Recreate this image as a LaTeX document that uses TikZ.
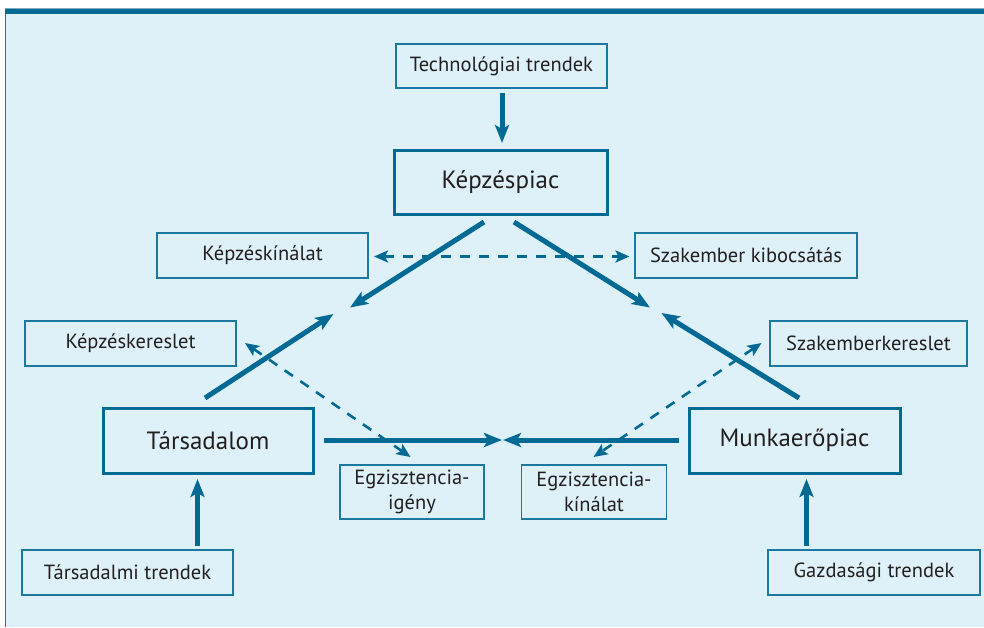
\documentclass[tikz,border=0pt]{standalone}
\usepackage{fontspec}
\setmainfont{PT Sans}
\usetikzlibrary{arrows.meta}
\definecolor{deepblue}{HTML}{006A95}
\definecolor{boxline}{HTML}{1B78A0}
\definecolor{panel}{HTML}{DFF1F8}
\definecolor{ink}{HTML}{231F20}
\begin{document}
\begin{tikzpicture}[x=1pt,y=-1pt,
  box/.style={draw=boxline, line width=1.5pt, inner sep=0pt, text=ink,
    font=\fontsize{20.5}{25}\selectfont, align=center},
  bigbox/.style={box, draw=deepblue, line width=3pt, font=\fontsize{25}{29}\selectfont},
  flow/.style={draw=deepblue, line width=5pt,
    -{Stealth[length=18pt,width=14pt,inset=4pt]}},
  link/.style={draw=deepblue, line width=2.6pt, dash pattern=on 10pt off 9pt,
    {Stealth[length=14pt,width=12pt,inset=3pt]}-{Stealth[length=14pt,width=12pt,inset=3pt]}}]
\useasboundingbox (0,0) rectangle (984,627);

% background panel with frame
\fill[panel] (5,8.5) rectangle (984,627);
\draw[boxline, line width=1pt] (5.5,627) -- (5.5,9);
\fill[deepblue] (5,9) rectangle (984,13.5);
\draw[boxline!60, line width=0.8pt] (5,8.6) -- (984,8.6);

% boxes
\node[box, minimum width=211pt, minimum height=44pt] (tech) at (501.5,66) {Technológiai trendek};
\node[bigbox, minimum width=213pt, minimum height=64pt] (kpiac) at (500.5,182) {Képzéspiac};
\node[box, minimum width=211pt, minimum height=45pt] (kkin) at (262.5,255.5) {Képzéskínálat};
\node[box, minimum width=222pt, minimum height=45pt] (szkib) at (746,255.5) {Szakember kibocsátás};
\node[box, minimum width=211pt, minimum height=45pt] (kker) at (130.5,343.5) {Képzéskereslet};
\node[box, minimum width=197pt, minimum height=45pt] (szker) at (868.5,343.5) {Szakemberkereslet};
\node[bigbox, minimum width=210pt, minimum height=65pt] (tars) at (208,440.5) {Társadalom};
\node[bigbox, minimum width=211pt, minimum height=65pt] (munka) at (794.5,440.5) {Munkaerőpiac};
\node[box, minimum width=144pt, minimum height=54pt] (egzi) at (412,492) {Egzisztencia-\\igény};
\node[box, minimum width=145pt, minimum height=54pt] (egzk) at (594,492) {Egzisztencia-\\kínálat};
\node[box, minimum width=211pt, minimum height=45pt] (tarst) at (127.5,572.5) {Társadalmi trendek};
\node[box, minimum width=212pt, minimum height=45pt] (gazd) at (874,572.5) {Gazdasági trendek};

% free ends of the connectors
\coordinate (techout) at (502,93);
\coordinate (kpin) at (502,143);
\coordinate (kpl) at (484,222);
\coordinate (kplend) at (350,307.5);
\coordinate (kpr) at (514,222);
\coordinate (kprend) at (650,307.5);
\coordinate (tarsout) at (205,398);
\coordinate (tarsend) at (333.5,314);
\coordinate (munkaout) at (799,398);
\coordinate (munkaend) at (661.5,313);
\coordinate (tarsr) at (324,440);
\coordinate (munkal) at (679,440);
\coordinate (meetl) at (502,440);
\coordinate (meetr) at (503,440);
\coordinate (tarstout) at (197.5,546);
\coordinate (tarsin) at (197.5,479);
\coordinate (gazdout) at (806.5,546);
\coordinate (munkain) at (806.5,479);
\coordinate (kkinend) at (374,256.5);
\coordinate (szkibend) at (629.5,256.5);
\coordinate (kkerend) at (245,343);
\coordinate (egziend) at (410.5,457);
\coordinate (szkerend) at (761.5,343);
\coordinate (egzkend) at (593.5,457);

% main flows
\draw[flow] (techout) -- (kpin);
\draw[flow] (kpl) -- (kplend);
\draw[flow] (kpr) -- (kprend);
\draw[flow] (tarsout) -- (tarsend);
\draw[flow] (munkaout) -- (munkaend);
\draw[flow] (tarsr) -- (meetl);
\draw[flow] (munkal) -- (meetr);
\draw[flow] (tarstout) -- (tarsin);
\draw[flow] (gazdout) -- (munkain);

% dashed exchanges
\draw[link] (kkinend) -- (szkibend);
\draw[link] (kkerend) -- (egziend);
\draw[link] (szkerend) -- (egzkend);
\end{tikzpicture}
\end{document}
